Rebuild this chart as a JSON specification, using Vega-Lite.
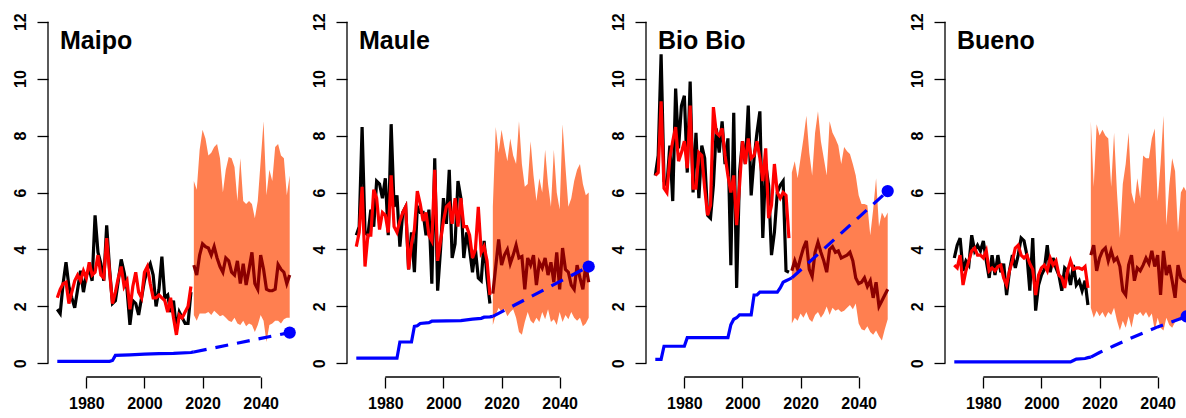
{
"$schema": "https://vega.github.io/schema/vega-lite/v6.json",
"padding": {"left": 12, "top": 8, "right": 0, "bottom": 0},
"spacing": 48,
"bounds": "flush",
"config": {"view": {"stroke": null}, "axis": {"domain": false, "grid": false, "tickColor": "black", "tickWidth": 1.3, "tickSize": 11, "labelFont": "Liberation Sans", "labelFontSize": 16, "labelFontWeight": "bold", "labelColor": "black", "labelOverlap": false, "labelBound": false, "labelFlush": false}},
"datasets": {
"hist": [
{"basin":"Maipo","year":1970,"obs":1.9,"sim":2.3},{"basin":"Maipo","year":1971,"obs":1.75,"sim":2.6},{"basin":"Maipo","year":1972,"obs":2.8,"sim":2.8},{"basin":"Maipo","year":1973,"obs":3.55,"sim":2.85},{"basin":"Maipo","year":1974,"obs":2.7,"sim":2.1},{"basin":"Maipo","year":1975,"obs":2.3,"sim":2.5},{"basin":"Maipo","year":1976,"obs":1.95,"sim":2.9},{"basin":"Maipo","year":1977,"obs":2.6,"sim":3.1},{"basin":"Maipo","year":1978,"obs":3.25,"sim":2.9},{"basin":"Maipo","year":1979,"obs":2.5,"sim":3.25},
{"basin":"Maipo","year":1980,"obs":3.1,"sim":3.0},{"basin":"Maipo","year":1981,"obs":3.3,"sim":3.55},{"basin":"Maipo","year":1982,"obs":2.9,"sim":3.1},{"basin":"Maipo","year":1983,"obs":5.2,"sim":3.2},{"basin":"Maipo","year":1984,"obs":3.9,"sim":3.8},{"basin":"Maipo","year":1985,"obs":3.5,"sim":3.1},{"basin":"Maipo","year":1986,"obs":2.9,"sim":3.0},{"basin":"Maipo","year":1987,"obs":4.85,"sim":4.4},{"basin":"Maipo","year":1988,"obs":3.3,"sim":3.2},{"basin":"Maipo","year":1989,"obs":2.1,"sim":2.1},
{"basin":"Maipo","year":1990,"obs":2.2,"sim":2.5},{"basin":"Maipo","year":1991,"obs":2.9,"sim":3.0},{"basin":"Maipo","year":1992,"obs":3.65,"sim":3.4},{"basin":"Maipo","year":1993,"obs":3.2,"sim":2.7},{"basin":"Maipo","year":1994,"obs":2.6,"sim":2.9},{"basin":"Maipo","year":1995,"obs":1.35,"sim":1.9},{"basin":"Maipo","year":1996,"obs":2.2,"sim":2.7},{"basin":"Maipo","year":1997,"obs":2.1,"sim":3.2},{"basin":"Maipo","year":1998,"obs":1.7,"sim":2.5},{"basin":"Maipo","year":1999,"obs":2.3,"sim":2.3},
{"basin":"Maipo","year":2000,"obs":2.9,"sim":3.2},{"basin":"Maipo","year":2001,"obs":3.3,"sim":3.4},{"basin":"Maipo","year":2002,"obs":3.5,"sim":2.8},{"basin":"Maipo","year":2003,"obs":3.1,"sim":2.3},{"basin":"Maipo","year":2004,"obs":2.0,"sim":2.3},{"basin":"Maipo","year":2005,"obs":2.6,"sim":2.4},{"basin":"Maipo","year":2006,"obs":3.75,"sim":2.3},{"basin":"Maipo","year":2007,"obs":2.3,"sim":2.2},{"basin":"Maipo","year":2008,"obs":2.4,"sim":1.8},{"basin":"Maipo","year":2009,"obs":1.8,"sim":2.3},
{"basin":"Maipo","year":2010,"obs":2.2,"sim":1.6},{"basin":"Maipo","year":2011,"obs":1.2,"sim":1.0},{"basin":"Maipo","year":2012,"obs":1.8,"sim":1.7},{"basin":"Maipo","year":2013,"obs":1.6,"sim":1.6},{"basin":"Maipo","year":2014,"obs":1.4,"sim":1.8},{"basin":"Maipo","year":2015,"obs":1.4,"sim":2.0},{"basin":"Maipo","year":2016,"obs":2.5,"sim":2.7},
{"basin":"Maule","year":1970,"obs":4.5,"sim":4.1},{"basin":"Maule","year":1971,"obs":4.8,"sim":4.6},{"basin":"Maule","year":1972,"obs":8.3,"sim":6.2},{"basin":"Maule","year":1973,"obs":4.6,"sim":3.4},{"basin":"Maule","year":1974,"obs":4.5,"sim":4.5},{"basin":"Maule","year":1975,"obs":5.4,"sim":4.5},{"basin":"Maule","year":1976,"obs":4.8,"sim":6.1},{"basin":"Maule","year":1977,"obs":6.4,"sim":5.8},{"basin":"Maule","year":1978,"obs":6.3,"sim":4.7},{"basin":"Maule","year":1979,"obs":5.8,"sim":5.3},
{"basin":"Maule","year":1980,"obs":6.5,"sim":5.2},{"basin":"Maule","year":1981,"obs":4.5,"sim":4.6},{"basin":"Maule","year":1982,"obs":8.4,"sim":6.6},{"basin":"Maule","year":1983,"obs":5.5,"sim":4.8},{"basin":"Maule","year":1984,"obs":5.9,"sim":4.6},{"basin":"Maule","year":1985,"obs":4.1,"sim":5.0},{"basin":"Maule","year":1986,"obs":5.3,"sim":5.3},{"basin":"Maule","year":1987,"obs":5.5,"sim":5.5},{"basin":"Maule","year":1988,"obs":3.3,"sim":3.3},{"basin":"Maule","year":1989,"obs":4.6,"sim":4.2},
{"basin":"Maule","year":1990,"obs":3.2,"sim":4.7},{"basin":"Maule","year":1991,"obs":5.5,"sim":6.05},{"basin":"Maule","year":1992,"obs":5.3,"sim":5.6},{"basin":"Maule","year":1993,"obs":5.3,"sim":5.0},{"basin":"Maule","year":1994,"obs":4.5,"sim":5.3},{"basin":"Maule","year":1995,"obs":5.4,"sim":4.5},{"basin":"Maule","year":1996,"obs":2.8,"sim":4.3},{"basin":"Maule","year":1997,"obs":7.2,"sim":6.8},{"basin":"Maule","year":1998,"obs":2.55,"sim":3.6},{"basin":"Maule","year":1999,"obs":4.0,"sim":4.3},
{"basin":"Maule","year":2000,"obs":5.8,"sim":5.0},{"basin":"Maule","year":2001,"obs":4.9,"sim":5.5},{"basin":"Maule","year":2002,"obs":6.8,"sim":5.6},{"basin":"Maule","year":2003,"obs":3.7,"sim":4.9},{"basin":"Maule","year":2004,"obs":4.2,"sim":5.8},{"basin":"Maule","year":2005,"obs":6.4,"sim":4.8},{"basin":"Maule","year":2006,"obs":5.8,"sim":5.8},{"basin":"Maule","year":2007,"obs":3.7,"sim":4.8},{"basin":"Maule","year":2008,"obs":4.6,"sim":4.8},{"basin":"Maule","year":2009,"obs":4.0,"sim":4.5},
{"basin":"Maule","year":2010,"obs":3.2,"sim":3.7},{"basin":"Maule","year":2011,"obs":4.0,"sim":4.0},{"basin":"Maule","year":2012,"obs":3.0,"sim":5.5},{"basin":"Maule","year":2013,"obs":2.9,"sim":3.9},{"basin":"Maule","year":2014,"obs":4.3,"sim":4.1},{"basin":"Maule","year":2015,"obs":3.0,"sim":3.6},{"basin":"Maule","year":2016,"obs":2.1,"sim":2.4},
{"basin":"Bio Bio","year":1970,"obs":6.6,"sim":6.6},{"basin":"Bio Bio","year":1971,"obs":7.3,"sim":6.7},{"basin":"Bio Bio","year":1972,"obs":10.85,"sim":9.2},{"basin":"Bio Bio","year":1973,"obs":6.4,"sim":6.15},{"basin":"Bio Bio","year":1974,"obs":6.25,"sim":6.0},{"basin":"Bio Bio","year":1975,"obs":7.65,"sim":7.2},{"basin":"Bio Bio","year":1976,"obs":5.7,"sim":7.8},{"basin":"Bio Bio","year":1977,"obs":9.65,"sim":8.3},{"basin":"Bio Bio","year":1978,"obs":7.55,"sim":7.1},{"basin":"Bio Bio","year":1979,"obs":9.05,"sim":7.4},
{"basin":"Bio Bio","year":1980,"obs":9.4,"sim":7.8},{"basin":"Bio Bio","year":1981,"obs":6.7,"sim":6.85},{"basin":"Bio Bio","year":1982,"obs":9.9,"sim":9.05},{"basin":"Bio Bio","year":1983,"obs":6.0,"sim":6.15},{"basin":"Bio Bio","year":1984,"obs":8.1,"sim":6.15},{"basin":"Bio Bio","year":1985,"obs":5.8,"sim":7.4},{"basin":"Bio Bio","year":1986,"obs":7.65,"sim":7.3},{"basin":"Bio Bio","year":1987,"obs":7.2,"sim":6.15},{"basin":"Bio Bio","year":1988,"obs":5.2,"sim":5.2},{"basin":"Bio Bio","year":1989,"obs":5.1,"sim":5.55},
{"basin":"Bio Bio","year":1990,"obs":6.25,"sim":9.0},{"basin":"Bio Bio","year":1991,"obs":8.25,"sim":8.1},{"basin":"Bio Bio","year":1992,"obs":7.4,"sim":8.0},{"basin":"Bio Bio","year":1993,"obs":8.5,"sim":8.25},{"basin":"Bio Bio","year":1994,"obs":7.0,"sim":7.3},{"basin":"Bio Bio","year":1995,"obs":7.9,"sim":6.6},{"basin":"Bio Bio","year":1996,"obs":3.45,"sim":6.0},{"basin":"Bio Bio","year":1997,"obs":8.8,"sim":6.6},{"basin":"Bio Bio","year":1998,"obs":2.65,"sim":4.85},{"basin":"Bio Bio","year":1999,"obs":6.7,"sim":6.25},
{"basin":"Bio Bio","year":2000,"obs":7.8,"sim":7.8},{"basin":"Bio Bio","year":2001,"obs":7.0,"sim":7.0},{"basin":"Bio Bio","year":2002,"obs":9.05,"sim":7.9},{"basin":"Bio Bio","year":2003,"obs":5.9,"sim":7.2},{"basin":"Bio Bio","year":2004,"obs":7.2,"sim":7.3},{"basin":"Bio Bio","year":2005,"obs":8.1,"sim":7.8},{"basin":"Bio Bio","year":2006,"obs":8.85,"sim":7.2},{"basin":"Bio Bio","year":2007,"obs":4.4,"sim":6.4},{"basin":"Bio Bio","year":2008,"obs":7.0,"sim":7.55},{"basin":"Bio Bio","year":2009,"obs":6.25,"sim":5.1},
{"basin":"Bio Bio","year":2010,"obs":3.8,"sim":5.55},{"basin":"Bio Bio","year":2011,"obs":4.6,"sim":7.0},{"basin":"Bio Bio","year":2012,"obs":6.0,"sim":6.0},{"basin":"Bio Bio","year":2013,"obs":6.25,"sim":5.8},{"basin":"Bio Bio","year":2014,"obs":6.4,"sim":6.0},{"basin":"Bio Bio","year":2015,"obs":3.25,"sim":5.9},{"basin":"Bio Bio","year":2016,"obs":3.2,"sim":4.4},
{"basin":"Bueno","year":1970,"obs":3.7,"sim":3.45},{"basin":"Bueno","year":1971,"obs":4.15,"sim":3.35},{"basin":"Bueno","year":1972,"obs":4.4,"sim":3.8},{"basin":"Bueno","year":1973,"obs":3.25,"sim":2.75},{"basin":"Bueno","year":1974,"obs":3.6,"sim":3.25},{"basin":"Bueno","year":1975,"obs":3.45,"sim":3.6},{"basin":"Bueno","year":1976,"obs":4.5,"sim":3.95},{"basin":"Bueno","year":1977,"obs":3.95,"sim":4.05},{"basin":"Bueno","year":1978,"obs":4.15,"sim":3.8},{"basin":"Bueno","year":1979,"obs":3.95,"sim":3.8},
{"basin":"Bueno","year":1980,"obs":4.3,"sim":3.7},{"basin":"Bueno","year":1981,"obs":3.6,"sim":3.95},{"basin":"Bueno","year":1982,"obs":3.0,"sim":3.25},{"basin":"Bueno","year":1983,"obs":3.8,"sim":3.35},{"basin":"Bueno","year":1984,"obs":3.1,"sim":3.25},{"basin":"Bueno","year":1985,"obs":3.8,"sim":3.4},{"basin":"Bueno","year":1986,"obs":3.2,"sim":3.45},{"basin":"Bueno","year":1987,"obs":3.5,"sim":3.0},{"basin":"Bueno","year":1988,"obs":2.4,"sim":2.75},{"basin":"Bueno","year":1989,"obs":3.25,"sim":3.25},
{"basin":"Bueno","year":1990,"obs":3.8,"sim":3.6},{"basin":"Bueno","year":1991,"obs":3.35,"sim":4.05},{"basin":"Bueno","year":1992,"obs":3.8,"sim":4.15},{"basin":"Bueno","year":1993,"obs":4.4,"sim":3.8},{"basin":"Bueno","year":1994,"obs":4.3,"sim":3.7},{"basin":"Bueno","year":1995,"obs":3.8,"sim":3.8},{"basin":"Bueno","year":1996,"obs":2.55,"sim":3.5},{"basin":"Bueno","year":1997,"obs":4.4,"sim":3.3},{"basin":"Bueno","year":1998,"obs":1.85,"sim":2.4},{"basin":"Bueno","year":1999,"obs":2.75,"sim":3.1},
{"basin":"Bueno","year":2000,"obs":3.1,"sim":3.35},{"basin":"Bueno","year":2001,"obs":3.3,"sim":3.45},{"basin":"Bueno","year":2002,"obs":4.15,"sim":3.25},{"basin":"Bueno","year":2003,"obs":3.2,"sim":3.7},{"basin":"Bueno","year":2004,"obs":3.7,"sim":3.45},{"basin":"Bueno","year":2005,"obs":3.35,"sim":3.6},{"basin":"Bueno","year":2006,"obs":3.1,"sim":3.1},{"basin":"Bueno","year":2007,"obs":2.55,"sim":3.0},{"basin":"Bueno","year":2008,"obs":3.35,"sim":2.65},{"basin":"Bueno","year":2009,"obs":3.25,"sim":3.25},
{"basin":"Bueno","year":2010,"obs":2.75,"sim":3.6},{"basin":"Bueno","year":2011,"obs":3.45,"sim":3.3},{"basin":"Bueno","year":2012,"obs":2.75,"sim":3.35},{"basin":"Bueno","year":2013,"obs":2.9,"sim":3.35},{"basin":"Bueno","year":2014,"obs":2.55,"sim":3.3},{"basin":"Bueno","year":2015,"obs":2.9,"sim":3.4},{"basin":"Bueno","year":2016,"obs":2.05,"sim":2.65}
],
"future": [
{"basin":"Maipo","year":2017,"lo":1.7,"hi":6.4,"med":3.45},{"basin":"Maipo","year":2018,"lo":1.5,"hi":6.1,"med":3.1},{"basin":"Maipo","year":2019,"lo":1.75,"hi":7.5,"med":3.8},{"basin":"Maipo","year":2020,"lo":1.75,"hi":8.2,"med":4.2},{"basin":"Maipo","year":2021,"lo":1.75,"hi":7.9,"med":4.1},{"basin":"Maipo","year":2022,"lo":1.8,"hi":7.3,"med":4.05},{"basin":"Maipo","year":2023,"lo":1.7,"hi":7.4,"med":3.8},{"basin":"Maipo","year":2024,"lo":1.85,"hi":7.6,"med":4.1},{"basin":"Maipo","year":2025,"lo":1.75,"hi":7.7,"med":3.7},{"basin":"Maipo","year":2026,"lo":1.65,"hi":7.2,"med":3.4},
{"basin":"Maipo","year":2027,"lo":1.7,"hi":6.0,"med":3.2},{"basin":"Maipo","year":2028,"lo":1.6,"hi":6.8,"med":3.7},{"basin":"Maipo","year":2029,"lo":1.5,"hi":7.25,"med":3.6},{"basin":"Maipo","year":2030,"lo":1.45,"hi":7.2,"med":3.2},{"basin":"Maipo","year":2031,"lo":1.6,"hi":6.9,"med":3.1},{"basin":"Maipo","year":2032,"lo":1.4,"hi":5.7,"med":3.6},{"basin":"Maipo","year":2033,"lo":1.35,"hi":7.2,"med":2.8},{"basin":"Maipo","year":2034,"lo":1.5,"hi":5.7,"med":3.5},{"basin":"Maipo","year":2035,"lo":1.3,"hi":5.6,"med":2.75},{"basin":"Maipo","year":2036,"lo":1.4,"hi":5.7,"med":3.3},
{"basin":"Maipo","year":2037,"lo":1.35,"hi":5.6,"med":3.9},{"basin":"Maipo","year":2038,"lo":1.1,"hi":5.1,"med":2.8},{"basin":"Maipo","year":2039,"lo":1.35,"hi":5.7,"med":2.6},{"basin":"Maipo","year":2040,"lo":1.7,"hi":7.1,"med":3.8},{"basin":"Maipo","year":2041,"lo":1.5,"hi":8.5,"med":3.3},{"basin":"Maipo","year":2042,"lo":0.75,"hi":5.9,"med":2.6},{"basin":"Maipo","year":2043,"lo":1.35,"hi":6.8,"med":2.55},{"basin":"Maipo","year":2044,"lo":1.4,"hi":6.4,"med":2.55},{"basin":"Maipo","year":2045,"lo":1.5,"hi":7.6,"med":2.6},{"basin":"Maipo","year":2046,"lo":1.5,"hi":7.7,"med":3.47},
{"basin":"Maipo","year":2047,"lo":1.4,"hi":7.3,"med":3.3},{"basin":"Maipo","year":2048,"lo":1.55,"hi":7.2,"med":3.2},{"basin":"Maipo","year":2049,"lo":1.6,"hi":5.9,"med":2.8},{"basin":"Maipo","year":2050,"lo":1.6,"hi":6.6,"med":3.1},
{"basin":"Maule","year":2017,"lo":1.35,"hi":5.5,"med":2.45},{"basin":"Maule","year":2018,"lo":1.7,"hi":8.3,"med":3.4},{"basin":"Maule","year":2019,"lo":1.95,"hi":7.4,"med":4.35},{"basin":"Maule","year":2020,"lo":1.8,"hi":8.2,"med":3.45},{"basin":"Maule","year":2021,"lo":1.9,"hi":7.6,"med":3.8},{"basin":"Maule","year":2022,"lo":1.65,"hi":7.1,"med":4.0},{"basin":"Maule","year":2023,"lo":1.8,"hi":7.9,"med":3.5},{"basin":"Maule","year":2024,"lo":1.9,"hi":7.3,"med":3.8},{"basin":"Maule","year":2025,"lo":1.6,"hi":7.0,"med":4.15},{"basin":"Maule","year":2026,"lo":1.1,"hi":8.5,"med":3.7},
{"basin":"Maule","year":2027,"lo":1.0,"hi":7.0,"med":3.75},{"basin":"Maule","year":2028,"lo":1.45,"hi":6.2,"med":2.6},{"basin":"Maule","year":2029,"lo":1.8,"hi":6.3,"med":3.7},{"basin":"Maule","year":2030,"lo":1.5,"hi":7.8,"med":3.45},{"basin":"Maule","year":2031,"lo":1.4,"hi":6.6,"med":3.8},{"basin":"Maule","year":2032,"lo":1.6,"hi":5.7,"med":2.75},{"basin":"Maule","year":2033,"lo":1.45,"hi":6.5,"med":3.55},{"basin":"Maule","year":2034,"lo":1.8,"hi":6.0,"med":3.35},{"basin":"Maule","year":2035,"lo":1.55,"hi":7.5,"med":3.7},{"basin":"Maule","year":2036,"lo":1.9,"hi":6.3,"med":3.1},
{"basin":"Maule","year":2037,"lo":1.45,"hi":5.5,"med":3.55},{"basin":"Maule","year":2038,"lo":1.55,"hi":7.5,"med":2.85},{"basin":"Maule","year":2039,"lo":1.35,"hi":6.0,"med":3.9},{"basin":"Maule","year":2040,"lo":1.8,"hi":5.4,"med":2.6},{"basin":"Maule","year":2041,"lo":1.45,"hi":8.4,"med":4.05},{"basin":"Maule","year":2042,"lo":1.7,"hi":6.9,"med":3.3},{"basin":"Maule","year":2043,"lo":1.55,"hi":5.5,"med":3.2},{"basin":"Maule","year":2044,"lo":1.8,"hi":5.8,"med":2.75},{"basin":"Maule","year":2045,"lo":1.6,"hi":6.4,"med":2.6},{"basin":"Maule","year":2046,"lo":1.5,"hi":6.8,"med":3.45},
{"basin":"Maule","year":2047,"lo":1.6,"hi":7.0,"med":3.0},{"basin":"Maule","year":2048,"lo":1.3,"hi":6.3,"med":2.6},{"basin":"Maule","year":2049,"lo":1.4,"hi":5.9,"med":3.45},{"basin":"Maule","year":2050,"lo":1.6,"hi":6.0,"med":2.85},
{"basin":"Bio Bio","year":2017,"lo":1.4,"hi":6.7,"med":3.25},{"basin":"Bio Bio","year":2018,"lo":1.6,"hi":7.1,"med":3.6},{"basin":"Bio Bio","year":2019,"lo":1.5,"hi":6.5,"med":3.3},{"basin":"Bio Bio","year":2020,"lo":1.75,"hi":7.2,"med":3.7},{"basin":"Bio Bio","year":2021,"lo":1.6,"hi":7.9,"med":4.05},{"basin":"Bio Bio","year":2022,"lo":1.8,"hi":8.7,"med":4.3},{"basin":"Bio Bio","year":2023,"lo":1.55,"hi":7.4,"med":3.3},{"basin":"Bio Bio","year":2024,"lo":1.45,"hi":6.6,"med":3.05},{"basin":"Bio Bio","year":2025,"lo":1.7,"hi":8.1,"med":3.9},{"basin":"Bio Bio","year":2026,"lo":1.8,"hi":8.85,"med":4.25},
{"basin":"Bio Bio","year":2027,"lo":1.6,"hi":7.8,"med":3.9},{"basin":"Bio Bio","year":2028,"lo":1.75,"hi":7.2,"med":3.6},{"basin":"Bio Bio","year":2029,"lo":2.0,"hi":6.6,"med":3.2},{"basin":"Bio Bio","year":2030,"lo":1.7,"hi":8.5,"med":4.0},{"basin":"Bio Bio","year":2031,"lo":1.95,"hi":8.1,"med":4.1},{"basin":"Bio Bio","year":2032,"lo":1.85,"hi":7.9,"med":3.9},{"basin":"Bio Bio","year":2033,"lo":1.9,"hi":7.65,"med":3.95},{"basin":"Bio Bio","year":2034,"lo":1.8,"hi":7.0,"med":3.7},{"basin":"Bio Bio","year":2035,"lo":1.85,"hi":7.6,"med":3.75},{"basin":"Bio Bio","year":2036,"lo":1.95,"hi":7.45,"med":3.8},
{"basin":"Bio Bio","year":2037,"lo":2.05,"hi":7.35,"med":3.9},{"basin":"Bio Bio","year":2038,"lo":1.9,"hi":7.0,"med":3.6},{"basin":"Bio Bio","year":2039,"lo":2.1,"hi":6.6,"med":3.0},{"basin":"Bio Bio","year":2040,"lo":1.4,"hi":5.9,"med":2.8},{"basin":"Bio Bio","year":2041,"lo":1.2,"hi":5.6,"med":2.85},{"basin":"Bio Bio","year":2042,"lo":1.15,"hi":5.6,"med":3.0},{"basin":"Bio Bio","year":2043,"lo":1.3,"hi":5.55,"med":2.7},{"basin":"Bio Bio","year":2044,"lo":1.1,"hi":4.5,"med":2.9},{"basin":"Bio Bio","year":2045,"lo":1.0,"hi":5.4,"med":2.3},{"basin":"Bio Bio","year":2046,"lo":1.15,"hi":6.5,"med":2.85},
{"basin":"Bio Bio","year":2047,"lo":0.95,"hi":4.8,"med":2.0},{"basin":"Bio Bio","year":2048,"lo":0.8,"hi":5.3,"med":2.2},{"basin":"Bio Bio","year":2049,"lo":1.2,"hi":5.1,"med":2.4},{"basin":"Bio Bio","year":2050,"lo":1.55,"hi":5.3,"med":2.6},
{"basin":"Bueno","year":2017,"lo":1.95,"hi":8.5,"med":3.8},{"basin":"Bueno","year":2018,"lo":1.6,"hi":6.2,"med":4.15},{"basin":"Bueno","year":2019,"lo":1.85,"hi":8.4,"med":3.25},{"basin":"Bueno","year":2020,"lo":1.65,"hi":8.0,"med":3.7},{"basin":"Bueno","year":2021,"lo":1.8,"hi":8.2,"med":3.95},{"basin":"Bueno","year":2022,"lo":1.6,"hi":8.0,"med":4.05},{"basin":"Bueno","year":2023,"lo":1.8,"hi":7.9,"med":3.6},{"basin":"Bueno","year":2024,"lo":1.7,"hi":6.2,"med":3.95},{"basin":"Bueno","year":2025,"lo":1.95,"hi":8.1,"med":3.6},{"basin":"Bueno","year":2026,"lo":1.5,"hi":6.0,"med":3.7},
{"basin":"Bueno","year":2027,"lo":1.15,"hi":4.4,"med":3.4},{"basin":"Bueno","year":2028,"lo":1.5,"hi":6.3,"med":2.55},{"basin":"Bueno","year":2029,"lo":1.25,"hi":7.0,"med":2.4},{"basin":"Bueno","year":2030,"lo":1.65,"hi":8.1,"med":3.45},{"basin":"Bueno","year":2031,"lo":1.25,"hi":6.0,"med":3.8},{"basin":"Bueno","year":2032,"lo":1.75,"hi":5.6,"med":2.9},{"basin":"Bueno","year":2033,"lo":1.7,"hi":6.5,"med":3.35},{"basin":"Bueno","year":2034,"lo":1.8,"hi":5.8,"med":3.25},{"basin":"Bueno","year":2035,"lo":1.65,"hi":7.3,"med":3.45},{"basin":"Bueno","year":2036,"lo":1.8,"hi":7.2,"med":3.7},
{"basin":"Bueno","year":2037,"lo":1.6,"hi":7.2,"med":3.5},{"basin":"Bueno","year":2038,"lo":1.75,"hi":7.9,"med":3.95},{"basin":"Bueno","year":2039,"lo":1.15,"hi":8.25,"med":3.4},{"basin":"Bueno","year":2040,"lo":1.6,"hi":5.7,"med":3.8},{"basin":"Bueno","year":2041,"lo":1.25,"hi":7.0,"med":2.4},{"basin":"Bueno","year":2042,"lo":1.15,"hi":8.7,"med":3.95},{"basin":"Bueno","year":2043,"lo":1.6,"hi":4.85,"med":3.1},{"basin":"Bueno","year":2044,"lo":1.35,"hi":6.25,"med":3.45},{"basin":"Bueno","year":2045,"lo":1.25,"hi":7.2,"med":2.9},{"basin":"Bueno","year":2046,"lo":1.45,"hi":6.75,"med":2.3},
{"basin":"Bueno","year":2047,"lo":1.6,"hi":4.6,"med":3.45},{"basin":"Bueno","year":2048,"lo":1.5,"hi":6.0,"med":3.0},{"basin":"Bueno","year":2049,"lo":1.6,"hi":6.2,"med":2.9},{"basin":"Bueno","year":2050,"lo":1.5,"hi":6.0,"med":2.85}
],
"storage": [
{"basin":"Maipo","period":"hist","year":1970,"cum":0.07},{"basin":"Maipo","period":"hist","year":1988,"cum":0.07},{"basin":"Maipo","period":"hist","year":1989,"cum":0.1},{"basin":"Maipo","period":"hist","year":1990,"cum":0.28},{"basin":"Maipo","period":"hist","year":1995,"cum":0.3},{"basin":"Maipo","period":"hist","year":2000,"cum":0.32},{"basin":"Maipo","period":"hist","year":2005,"cum":0.34},{"basin":"Maipo","period":"hist","year":2010,"cum":0.35},{"basin":"Maipo","period":"hist","year":2016,"cum":0.38},{"basin":"Maipo","period":"hist","year":2017,"cum":0.4},
{"basin":"Maipo","period":"proj","year":2017,"cum":0.4},{"basin":"Maipo","period":"proj","year":2050,"cum":1.08},
{"basin":"Maule","period":"hist","year":1970,"cum":0.18},{"basin":"Maule","period":"hist","year":1984,"cum":0.18},{"basin":"Maule","period":"hist","year":1985,"cum":0.75},{"basin":"Maule","period":"hist","year":1989,"cum":0.75},{"basin":"Maule","period":"hist","year":1990,"cum":1.3},{"basin":"Maule","period":"hist","year":1991,"cum":1.32},{"basin":"Maule","period":"hist","year":1992,"cum":1.4},{"basin":"Maule","period":"hist","year":1995,"cum":1.43},{"basin":"Maule","period":"hist","year":1996,"cum":1.48},{"basin":"Maule","period":"hist","year":2006,"cum":1.5},{"basin":"Maule","period":"hist","year":2010,"cum":1.55},{"basin":"Maule","period":"hist","year":2013,"cum":1.58},{"basin":"Maule","period":"hist","year":2014,"cum":1.62},{"basin":"Maule","period":"hist","year":2016,"cum":1.63},{"basin":"Maule","period":"hist","year":2017,"cum":1.65},
{"basin":"Maule","period":"proj","year":2017,"cum":1.65},{"basin":"Maule","period":"proj","year":2050,"cum":3.4},
{"basin":"Bio Bio","period":"hist","year":1970,"cum":0.14},{"basin":"Bio Bio","period":"hist","year":1972,"cum":0.14},{"basin":"Bio Bio","period":"hist","year":1973,"cum":0.6},{"basin":"Bio Bio","period":"hist","year":1980,"cum":0.6},{"basin":"Bio Bio","period":"hist","year":1981,"cum":0.9},{"basin":"Bio Bio","period":"hist","year":1995,"cum":0.9},{"basin":"Bio Bio","period":"hist","year":1996,"cum":1.35},{"basin":"Bio Bio","period":"hist","year":1997,"cum":1.55},{"basin":"Bio Bio","period":"hist","year":1998,"cum":1.6},{"basin":"Bio Bio","period":"hist","year":1999,"cum":1.7},{"basin":"Bio Bio","period":"hist","year":2003,"cum":1.7},{"basin":"Bio Bio","period":"hist","year":2004,"cum":2.4},{"basin":"Bio Bio","period":"hist","year":2005,"cum":2.4},{"basin":"Bio Bio","period":"hist","year":2006,"cum":2.5},{"basin":"Bio Bio","period":"hist","year":2012,"cum":2.5},{"basin":"Bio Bio","period":"hist","year":2013,"cum":2.65},{"basin":"Bio Bio","period":"hist","year":2014,"cum":2.85},{"basin":"Bio Bio","period":"hist","year":2015,"cum":2.9},{"basin":"Bio Bio","period":"hist","year":2016,"cum":2.95},{"basin":"Bio Bio","period":"hist","year":2017,"cum":3.0},
{"basin":"Bio Bio","period":"proj","year":2017,"cum":3.0},{"basin":"Bio Bio","period":"proj","year":2050,"cum":6.05},
{"basin":"Bueno","period":"hist","year":1970,"cum":0.05},{"basin":"Bueno","period":"hist","year":2010,"cum":0.05},{"basin":"Bueno","period":"hist","year":2011,"cum":0.1},{"basin":"Bueno","period":"hist","year":2012,"cum":0.15},{"basin":"Bueno","period":"hist","year":2015,"cum":0.17},{"basin":"Bueno","period":"hist","year":2016,"cum":0.2},{"basin":"Bueno","period":"hist","year":2017,"cum":0.22},
{"basin":"Bueno","period":"proj","year":2017,"cum":0.22},{"basin":"Bueno","period":"proj","year":2020,"cum":0.38},{"basin":"Bueno","period":"proj","year":2025,"cum":0.62},{"basin":"Bueno","period":"proj","year":2030,"cum":0.85},{"basin":"Bueno","period":"proj","year":2040,"cum":1.28},{"basin":"Bueno","period":"proj","year":2050,"cum":1.65}
]
},
"hconcat": [
{"width": 251, "height": 369,
 "title": {"text": "Maipo", "anchor": "start", "frame": "group", "offset": 0, "dx": 12, "dy": 66, "baseline": "alphabetic", "fontSize": 25, "fontWeight": "bold", "font": "Liberation Sans", "color": "black"},
 "layer": [
  {"data": {"name": "future"}, "transform": [{"filter": "datum.basin === 'Maipo'"}], "mark": {"type": "area", "color": "#FF7F50", "opacity": 1},
   "encoding": {"x": {"field": "year", "type": "quantitative", "title": null, "scale": {"domain": [1966.8, 2053.2], "nice": false, "zero": false}, "axis": {"values": [1980, 2000, 2020, 2040], "format": "d", "labelPadding": 7, "labelFont": "Liberation Sans", "labelFontSize": 16, "labelFontWeight": "bold", "labelColor": "black"}},
                "y": {"field": "lo", "type": "quantitative", "title": null, "scale": {"domain": [-0.48, 12.48], "nice": false, "zero": false}, "axis": {"values": [0, 2, 4, 6, 8, 10, 12], "labelAngle": -90, "labelPadding": 9, "labelFont": "Liberation Sans", "labelFontSize": 16, "labelFontWeight": "bold", "labelColor": "black"}},
                "y2": {"field": "hi"}}},
  {"data": {"name": "hist"}, "transform": [{"filter": "datum.basin === 'Maipo'"}], "mark": {"type": "line", "color": "black", "strokeWidth": 3.2}, "encoding": {"x": {"field": "year", "type": "quantitative", "title": null}, "y": {"field": "obs", "type": "quantitative", "title": null}}},
  {"data": {"name": "hist"}, "transform": [{"filter": "datum.basin === 'Maipo'"}], "mark": {"type": "line", "color": "#FF0000", "strokeWidth": 3.2}, "encoding": {"x": {"field": "year", "type": "quantitative", "title": null}, "y": {"field": "sim", "type": "quantitative", "title": null}}},
  {"data": {"name": "future"}, "transform": [{"filter": "datum.basin === 'Maipo'"}], "mark": {"type": "line", "color": "#8B0000", "strokeWidth": 3.2}, "encoding": {"x": {"field": "year", "type": "quantitative", "title": null}, "y": {"field": "med", "type": "quantitative", "title": null}}},
  {"data": {"name": "storage"}, "transform": [{"filter": "datum.basin === 'Maipo' && datum.period === 'hist'"}], "mark": {"type": "line", "color": "#0000FF", "strokeWidth": 3.2}, "encoding": {"x": {"field": "year", "type": "quantitative", "title": null}, "y": {"field": "cum", "type": "quantitative", "title": null}}},
  {"data": {"name": "storage"}, "transform": [{"filter": "datum.basin === 'Maipo' && datum.period === 'proj'"}], "mark": {"type": "line", "color": "#0000FF", "strokeWidth": 3.2, "strokeDash": [13, 9]}, "encoding": {"x": {"field": "year", "type": "quantitative", "title": null}, "y": {"field": "cum", "type": "quantitative", "title": null}}},
  {"data": {"name": "storage"}, "transform": [{"filter": "datum.basin === 'Maipo' && datum.period === 'proj' && datum.year === 2050"}], "mark": {"type": "point", "filled": true, "color": "#0000FF", "opacity": 1, "size": 150}, "encoding": {"x": {"field": "year", "type": "quantitative", "title": null}, "y": {"field": "cum", "type": "quantitative", "title": null}}},
  {"data": {"values": [{}]}, "mark": {"type": "rule", "color": "black", "strokeWidth": 1.3}, "encoding": {"x": {"datum": 1966.8}, "y": {"datum": 0}, "y2": {"datum": 12}}},
  {"data": {"values": [{}]}, "mark": {"type": "rule", "color": "black", "strokeWidth": 1.3}, "encoding": {"x": {"datum": 1980}, "x2": {"datum": 2040}, "y": {"datum": -0.48}}}
 ]},
{"width": 251, "height": 369,
 "title": {"text": "Maule", "anchor": "start", "frame": "group", "offset": 0, "dx": 12, "dy": 66, "baseline": "alphabetic", "fontSize": 25, "fontWeight": "bold", "font": "Liberation Sans", "color": "black"},
 "layer": [
  {"data": {"name": "future"}, "transform": [{"filter": "datum.basin === 'Maule'"}], "mark": {"type": "area", "color": "#FF7F50", "opacity": 1},
   "encoding": {"x": {"field": "year", "type": "quantitative", "title": null, "scale": {"domain": [1966.8, 2053.2], "nice": false, "zero": false}, "axis": {"values": [1980, 2000, 2020, 2040], "format": "d", "labelPadding": 7, "labelFont": "Liberation Sans", "labelFontSize": 16, "labelFontWeight": "bold", "labelColor": "black"}},
                "y": {"field": "lo", "type": "quantitative", "title": null, "scale": {"domain": [-0.48, 12.48], "nice": false, "zero": false}, "axis": {"values": [0, 2, 4, 6, 8, 10, 12], "labelAngle": -90, "labelPadding": 9, "labelFont": "Liberation Sans", "labelFontSize": 16, "labelFontWeight": "bold", "labelColor": "black"}},
                "y2": {"field": "hi"}}},
  {"data": {"name": "hist"}, "transform": [{"filter": "datum.basin === 'Maule'"}], "mark": {"type": "line", "color": "black", "strokeWidth": 3.2}, "encoding": {"x": {"field": "year", "type": "quantitative", "title": null}, "y": {"field": "obs", "type": "quantitative", "title": null}}},
  {"data": {"name": "hist"}, "transform": [{"filter": "datum.basin === 'Maule'"}], "mark": {"type": "line", "color": "#FF0000", "strokeWidth": 3.2}, "encoding": {"x": {"field": "year", "type": "quantitative", "title": null}, "y": {"field": "sim", "type": "quantitative", "title": null}}},
  {"data": {"name": "future"}, "transform": [{"filter": "datum.basin === 'Maule'"}], "mark": {"type": "line", "color": "#8B0000", "strokeWidth": 3.2}, "encoding": {"x": {"field": "year", "type": "quantitative", "title": null}, "y": {"field": "med", "type": "quantitative", "title": null}}},
  {"data": {"name": "storage"}, "transform": [{"filter": "datum.basin === 'Maule' && datum.period === 'hist'"}], "mark": {"type": "line", "color": "#0000FF", "strokeWidth": 3.2}, "encoding": {"x": {"field": "year", "type": "quantitative", "title": null}, "y": {"field": "cum", "type": "quantitative", "title": null}}},
  {"data": {"name": "storage"}, "transform": [{"filter": "datum.basin === 'Maule' && datum.period === 'proj'"}], "mark": {"type": "line", "color": "#0000FF", "strokeWidth": 3.2, "strokeDash": [13, 9]}, "encoding": {"x": {"field": "year", "type": "quantitative", "title": null}, "y": {"field": "cum", "type": "quantitative", "title": null}}},
  {"data": {"name": "storage"}, "transform": [{"filter": "datum.basin === 'Maule' && datum.period === 'proj' && datum.year === 2050"}], "mark": {"type": "point", "filled": true, "color": "#0000FF", "opacity": 1, "size": 150}, "encoding": {"x": {"field": "year", "type": "quantitative", "title": null}, "y": {"field": "cum", "type": "quantitative", "title": null}}},
  {"data": {"values": [{}]}, "mark": {"type": "rule", "color": "black", "strokeWidth": 1.3}, "encoding": {"x": {"datum": 1966.8}, "y": {"datum": 0}, "y2": {"datum": 12}}},
  {"data": {"values": [{}]}, "mark": {"type": "rule", "color": "black", "strokeWidth": 1.3}, "encoding": {"x": {"datum": 1980}, "x2": {"datum": 2040}, "y": {"datum": -0.48}}}
 ]},
{"width": 251, "height": 369,
 "title": {"text": "Bio Bio", "anchor": "start", "frame": "group", "offset": 0, "dx": 12, "dy": 66, "baseline": "alphabetic", "fontSize": 25, "fontWeight": "bold", "font": "Liberation Sans", "color": "black"},
 "layer": [
  {"data": {"name": "future"}, "transform": [{"filter": "datum.basin === 'Bio Bio'"}], "mark": {"type": "area", "color": "#FF7F50", "opacity": 1},
   "encoding": {"x": {"field": "year", "type": "quantitative", "title": null, "scale": {"domain": [1966.8, 2053.2], "nice": false, "zero": false}, "axis": {"values": [1980, 2000, 2020, 2040], "format": "d", "labelPadding": 7, "labelFont": "Liberation Sans", "labelFontSize": 16, "labelFontWeight": "bold", "labelColor": "black"}},
                "y": {"field": "lo", "type": "quantitative", "title": null, "scale": {"domain": [-0.48, 12.48], "nice": false, "zero": false}, "axis": {"values": [0, 2, 4, 6, 8, 10, 12], "labelAngle": -90, "labelPadding": 9, "labelFont": "Liberation Sans", "labelFontSize": 16, "labelFontWeight": "bold", "labelColor": "black"}},
                "y2": {"field": "hi"}}},
  {"data": {"name": "hist"}, "transform": [{"filter": "datum.basin === 'Bio Bio'"}], "mark": {"type": "line", "color": "black", "strokeWidth": 3.2}, "encoding": {"x": {"field": "year", "type": "quantitative", "title": null}, "y": {"field": "obs", "type": "quantitative", "title": null}}},
  {"data": {"name": "hist"}, "transform": [{"filter": "datum.basin === 'Bio Bio'"}], "mark": {"type": "line", "color": "#FF0000", "strokeWidth": 3.2}, "encoding": {"x": {"field": "year", "type": "quantitative", "title": null}, "y": {"field": "sim", "type": "quantitative", "title": null}}},
  {"data": {"name": "future"}, "transform": [{"filter": "datum.basin === 'Bio Bio'"}], "mark": {"type": "line", "color": "#8B0000", "strokeWidth": 3.2}, "encoding": {"x": {"field": "year", "type": "quantitative", "title": null}, "y": {"field": "med", "type": "quantitative", "title": null}}},
  {"data": {"name": "storage"}, "transform": [{"filter": "datum.basin === 'Bio Bio' && datum.period === 'hist'"}], "mark": {"type": "line", "color": "#0000FF", "strokeWidth": 3.2}, "encoding": {"x": {"field": "year", "type": "quantitative", "title": null}, "y": {"field": "cum", "type": "quantitative", "title": null}}},
  {"data": {"name": "storage"}, "transform": [{"filter": "datum.basin === 'Bio Bio' && datum.period === 'proj'"}], "mark": {"type": "line", "color": "#0000FF", "strokeWidth": 3.2, "strokeDash": [13, 9]}, "encoding": {"x": {"field": "year", "type": "quantitative", "title": null}, "y": {"field": "cum", "type": "quantitative", "title": null}}},
  {"data": {"name": "storage"}, "transform": [{"filter": "datum.basin === 'Bio Bio' && datum.period === 'proj' && datum.year === 2050"}], "mark": {"type": "point", "filled": true, "color": "#0000FF", "opacity": 1, "size": 150}, "encoding": {"x": {"field": "year", "type": "quantitative", "title": null}, "y": {"field": "cum", "type": "quantitative", "title": null}}},
  {"data": {"values": [{}]}, "mark": {"type": "rule", "color": "black", "strokeWidth": 1.3}, "encoding": {"x": {"datum": 1966.8}, "y": {"datum": 0}, "y2": {"datum": 12}}},
  {"data": {"values": [{}]}, "mark": {"type": "rule", "color": "black", "strokeWidth": 1.3}, "encoding": {"x": {"datum": 1980}, "x2": {"datum": 2040}, "y": {"datum": -0.48}}}
 ]},
{"width": 251, "height": 369,
 "title": {"text": "Bueno", "anchor": "start", "frame": "group", "offset": 0, "dx": 12, "dy": 66, "baseline": "alphabetic", "fontSize": 25, "fontWeight": "bold", "font": "Liberation Sans", "color": "black"},
 "layer": [
  {"data": {"name": "future"}, "transform": [{"filter": "datum.basin === 'Bueno'"}], "mark": {"type": "area", "color": "#FF7F50", "opacity": 1},
   "encoding": {"x": {"field": "year", "type": "quantitative", "title": null, "scale": {"domain": [1966.8, 2053.2], "nice": false, "zero": false}, "axis": {"values": [1980, 2000, 2020, 2040], "format": "d", "labelPadding": 7, "labelFont": "Liberation Sans", "labelFontSize": 16, "labelFontWeight": "bold", "labelColor": "black"}},
                "y": {"field": "lo", "type": "quantitative", "title": null, "scale": {"domain": [-0.48, 12.48], "nice": false, "zero": false}, "axis": {"values": [0, 2, 4, 6, 8, 10, 12], "labelAngle": -90, "labelPadding": 9, "labelFont": "Liberation Sans", "labelFontSize": 16, "labelFontWeight": "bold", "labelColor": "black"}},
                "y2": {"field": "hi"}}},
  {"data": {"name": "hist"}, "transform": [{"filter": "datum.basin === 'Bueno'"}], "mark": {"type": "line", "color": "black", "strokeWidth": 3.2}, "encoding": {"x": {"field": "year", "type": "quantitative", "title": null}, "y": {"field": "obs", "type": "quantitative", "title": null}}},
  {"data": {"name": "hist"}, "transform": [{"filter": "datum.basin === 'Bueno'"}], "mark": {"type": "line", "color": "#FF0000", "strokeWidth": 3.2}, "encoding": {"x": {"field": "year", "type": "quantitative", "title": null}, "y": {"field": "sim", "type": "quantitative", "title": null}}},
  {"data": {"name": "future"}, "transform": [{"filter": "datum.basin === 'Bueno'"}], "mark": {"type": "line", "color": "#8B0000", "strokeWidth": 3.2}, "encoding": {"x": {"field": "year", "type": "quantitative", "title": null}, "y": {"field": "med", "type": "quantitative", "title": null}}},
  {"data": {"name": "storage"}, "transform": [{"filter": "datum.basin === 'Bueno' && datum.period === 'hist'"}], "mark": {"type": "line", "color": "#0000FF", "strokeWidth": 3.2}, "encoding": {"x": {"field": "year", "type": "quantitative", "title": null}, "y": {"field": "cum", "type": "quantitative", "title": null}}},
  {"data": {"name": "storage"}, "transform": [{"filter": "datum.basin === 'Bueno' && datum.period === 'proj'"}], "mark": {"type": "line", "color": "#0000FF", "strokeWidth": 3.2, "strokeDash": [13, 9]}, "encoding": {"x": {"field": "year", "type": "quantitative", "title": null}, "y": {"field": "cum", "type": "quantitative", "title": null}}},
  {"data": {"name": "storage"}, "transform": [{"filter": "datum.basin === 'Bueno' && datum.period === 'proj' && datum.year === 2050"}], "mark": {"type": "point", "filled": true, "color": "#0000FF", "opacity": 1, "size": 150}, "encoding": {"x": {"field": "year", "type": "quantitative", "title": null}, "y": {"field": "cum", "type": "quantitative", "title": null}}},
  {"data": {"values": [{}]}, "mark": {"type": "rule", "color": "black", "strokeWidth": 1.3}, "encoding": {"x": {"datum": 1966.8}, "y": {"datum": 0}, "y2": {"datum": 12}}},
  {"data": {"values": [{}]}, "mark": {"type": "rule", "color": "black", "strokeWidth": 1.3}, "encoding": {"x": {"datum": 1980}, "x2": {"datum": 2040}, "y": {"datum": -0.48}}}
 ]}
]
}
